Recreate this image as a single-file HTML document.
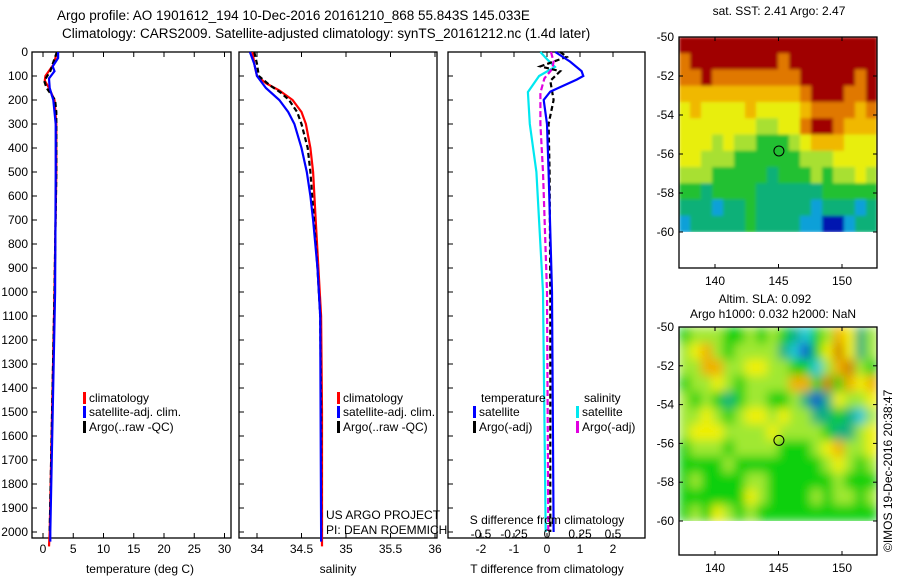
<!DOCTYPE html>
<html><head><meta charset="utf-8">
<style>
html,body{margin:0;padding:0;background:#fff;}
svg{display:block;font-family:"Liberation Sans",sans-serif;}
</style></head>
<body>
<svg id="fig" width="900" height="580" viewBox="0 0 900 580" xmlns="http://www.w3.org/2000/svg">
<defs>
<filter id="blurSla" filterUnits="userSpaceOnUse" x="679" y="327" width="198" height="194"><feGaussianBlur stdDeviation="5" edgeMode="duplicate"/></filter>
<filter id="blurSst" filterUnits="userSpaceOnUse" x="679" y="37" width="198" height="195"><feGaussianBlur stdDeviation="1.5" edgeMode="duplicate"/></filter>
</defs>
<text x="57" y="20" font-size="13.5">Argo profile: AO 1901612_194 10-Dec-2016 20161210_868 55.843S 145.033E</text>
<text x="62" y="38" font-size="13.5">Climatology: CARS2009. Satellite-adjusted climatology: synTS_20161212.nc (1.4d later)</text>
<g id="plots"></g>
</svg>
<script>
// ---- Profile data (depth in dbar) ----
const tClimDepth = [0,50,100,120,150,200,300,500,1000,1500,2000,2060];
const tClimVal   = [2.3,1.8,0.4,0.3,1.0,1.9,2.2,2.2,1.9,1.5,1.1,1.0];
const tSatDepth  = [0,25,60,80,110,150,200,300,500,1000,1500,2000,2040];
const tSatVal    = [2.5,2.5,1.6,1.9,1.0,1.1,1.7,2.1,2.1,2.0,1.6,1.2,1.2];
const tArgoDepth = [0,50,80,120,150,200,250,300,500,1000,1500,2000];
const tArgoVal   = [2.3,1.6,1.2,0.2,0.6,2.0,2.2,2.2,2.2,1.9,1.5,1.1];

const sClimDepth = [0,50,100,130,160,200,250,300,400,500,700,900,1100,1500,2000,2060];
const sClimVal   = [33.95,33.97,34.0,34.1,34.25,34.4,34.5,34.55,34.6,34.63,34.66,34.69,34.72,34.73,34.73,34.73];
const sSatDepth  = [0,50,100,150,200,250,300,400,500,600,700,900,1100,2000,2040];
const sSatVal    = [33.92,33.97,34.0,34.1,34.25,34.35,34.42,34.5,34.56,34.6,34.63,34.68,34.71,34.72,34.72];
const sArgoDepth = [0,50,100,140,170,200,250,300,400,500,700,900,1100,1500,2000];
const sArgoVal   = [33.97,34.0,34.02,34.15,34.27,34.36,34.45,34.5,34.57,34.6,34.64,34.68,34.71,34.72,34.72];

const dTSatDepth  = [0,40,80,100,115,140,165,200,300,500,1000,2000];
const dTSatVal    = [0.25,0.7,1.05,1.1,0.9,0.5,0.1,-0.1,0.0,0.05,0.15,0.2];
const dTArgoDepth = [0,20,40,60,80,120,200,300,500,1000,2000];
const dTArgoVal   = [0.4,0.6,0.2,-0.2,0.4,0.1,0.2,0.05,0.08,0.1,0.1];
const dSSatDepth  = [0,30,62,100,167,300,500,1000,2000];
const dSSatVal    = [-0.05,0.0,0.06,-0.06,-0.145,-0.13,-0.08,-0.03,-0.01];
const dSArgoDepth = [0,40,70,110,170,300,500,1000,2000];
const dSArgoVal   = [0.03,0.05,0.04,-0.02,-0.05,-0.05,-0.03,0.0,0.01];

const depthTicks = [0,100,200,300,400,500,600,700,800,900,1000,1100,1200,1300,1400,1500,1600,1700,1800,1900,2000];
const tTicks = [0,5,10,15,20,25,30];
const sTicks = [34,34.5,35,35.5,36];
const dTTicks = [-2,-1,0,1,2];
const dSTickLabels = ["-0.5","-0.25","0","0.25","0.5"];
const dSTicks = [-0.5,-0.25,0,0.25,0.5];

// ---- Map data ----
const sstGrid = [
"000000000000000000",
"100000000100000000",
"110111111110000010",
"222222222221000110",
"323333233332111121",
"333333344331001222",
"333434455543222333",
"334445555554443333",
"444555556555454434",
"556555566666655555",
"666766566666766676",
"766666566667788766"];
const sstColors = ["#a00000","#e07800","#f0b800","#e8ee10","#a8e030","#20c030","#10b078","#10a0d8","#0018b0"];
const slaGrid = [
"344433434321346524",
"456434444210357524",
"446644554433146743",
"344543444466373656",
"434323443342025445",
"445434554544223214",
"455544445444432245",
"344434444333456445",
"333343333333345434",
"343333443333334333",
"333333543333434434",
"343543433333333333"];
const slaColors = ["#1050d0","#20c8d8","#10b080","#10d010","#a0e830","#f0f000","#f0b000","#d08000"];

const NS="http://www.w3.org/2000/svg";
const root=document.getElementById('plots');
function mk(tag,attrs,parent){const e=document.createElementNS(NS,tag);for(const k in attrs)e.setAttribute(k,attrs[k]);(parent||root).appendChild(e);return e;}
function txt(x,y,s,size,anchor,parent){const t=mk('text',{x:x,y:y,'font-size':size||12,'text-anchor':anchor||'start'},parent);t.textContent=s;return t;}

const yTop=52, yPer100=24, yBot=538;
function yD(d){return yTop+d*yPer100/100;}
function lin(d0,d1,r0,r1){return v=>r0+(v-d0)*(r1-r0)/(d1-d0);}

function panel(name,x0,x1){
  const g=mk('g',{});
  
  
  mk('rect',{x:x0,y:yTop,width:x1-x0,height:yBot-yTop,fill:'none',stroke:'#000','stroke-width':1.3},g);
  depthTicks.forEach(d=>{mk('line',{x1:x0,x2:x0+5,y1:yD(d),y2:yD(d),stroke:'#000'},g);});
  return g;
}
function xticks(g,sc,ticks,labels){
  ticks.forEach((v,i)=>{const x=sc(v);
    mk('line',{x1:x,x2:x,y1:yBot,y2:yBot-5,stroke:'#000'},g);
    mk('line',{x1:x,x2:x,y1:yTop,y2:yTop+5,stroke:'#000'},g);
    if(labels) txt(x,553,labels[i],12,'middle',g);});
}
function series(g,name,sc,depths,vals,color,dash,w){
  const pts=depths.map((d,i)=>sc(vals[i]).toFixed(1)+','+yD(d).toFixed(1)).join(' ');
  const p=mk('polyline',{points:pts,fill:'none',stroke:color,'stroke-width':w||2.2},g);
  if(dash)p.setAttribute('stroke-dasharray',dash);
  
  
}
function legend(g,x,y,color,label){
  mk('rect',{x:x,y:y-10,width:3,height:12,fill:color},g);
  txt(x+6,y,label,12,'start',g);
}

// Panel 1: temperature
const g1=panel('temperature-panel',32,231);
depthTicks.forEach(d=>{txt(28,yD(d)+4,String(d),12,'end',g1);});
const xT=lin(0,30,43,224.5);
xticks(g1,xT,tTicks,tTicks.map(String));
txt(140,573,'temperature (deg C)',12,'middle',g1);
series(g1,'temp-climatology-line',xT,tClimDepth,tClimVal,'#f00');
series(g1,'temp-argo-line',xT,tArgoDepth,tArgoVal,'#000','5,3');
series(g1,'temp-satellite-line',xT,tSatDepth,tSatVal,'#00f');
legend(g1,83,402,'#f00','climatology');
legend(g1,83,416,'#00f','satellite-adj. clim.');
legend(g1,83,431,'#000','Argo(..raw -QC)');

// Panel 2: salinity
const g2=panel('salinity-panel',239,437);
const xS=lin(34,36,257,435);
xticks(g2,xS,sTicks,sTicks.map(String));
txt(338,573,'salinity',12,'middle',g2);
series(g2,'sal-climatology-line',xS,sClimDepth,sClimVal,'#f00');
series(g2,'sal-argo-line',xS,sArgoDepth,sArgoVal,'#000','5,3');
series(g2,'sal-satellite-line',xS,sSatDepth,sSatVal,'#00f');
legend(g2,337,402,'#f00','climatology');
legend(g2,337,416,'#00f','satellite-adj. clim.');
legend(g2,337,431,'#000','Argo(..raw -QC)');
txt(326,519,'US ARGO PROJECT',12,'start',g2);
txt(326,534,'PI: DEAN ROEMMICH',12,'start',g2);

// Panel 3: differences
const g3=panel('difference-panel',448,645);
const xDT=lin(-2,2,481,613);
const xDS=lin(-0.5,0.5,481,613);
xticks(g3,xDT,dTTicks,dTTicks.map(String));
txt(547,573,'T difference from climatology',12,'middle',g3);
series(g3,'dS-satellite-line',xDS,dSSatDepth,dSSatVal,'#00e8f0');
series(g3,'dS-argo-line',xDS,dSArgoDepth,dSArgoVal,'#e000e0','6,3');
series(g3,'dT-argo-line',xDT,dTArgoDepth,dTArgoVal,'#000','5,3');
series(g3,'dT-satellite-line',xDT,dTSatDepth,dTSatVal,'#00f');
txt(547,524,'S difference from climatology',12,'middle',g3);
dSTicks.forEach((v,i)=>txt(xDS(v),538,dSTickLabels[i],12,'middle',g3));
txt(481,402,'temperature',12,'start',g3);
legend(g3,473,416,'#00f','satellite');
legend(g3,473,431,'#000','Argo(-adj)');
txt(584,402,'salinity',12,'start',g3);
legend(g3,576,416,'#00e8f0','satellite');
legend(g3,576,431,'#e000e0','Argo(-adj)');

// Maps
const mapX0=679,mapX1=877;
const lonX=lin(140,150,715,842);
function drawMap(name,grid,colors,yTopM,yM60,yBotM,filt){
  const g=mk('g',{});
  
  
  const cells=mk('g',{filter:'url(#'+filt+')'},g);
  const rows=grid.length, cols=grid[0].length;
  const cw=(mapX1-mapX0)/cols, ch=(yM60-yTopM)/rows;
  grid.forEach((row,r)=>{for(let c=0;c<cols;c++){
    mk('rect',{x:(mapX0+c*cw).toFixed(2),y:(yTopM+r*ch).toFixed(2),width:(cw+0.6).toFixed(2),height:(ch+0.6).toFixed(2),fill:colors[+row[c]]},cells);
  }});
  mk('rect',{x:mapX0,y:yTopM,width:mapX1-mapX0,height:yBotM-yTopM,fill:'none',stroke:'#000','stroke-width':1.3},g);
  const latY=lin(-50,-60,yTopM,yM60);
  [-50,-52,-54,-56,-58,-60].forEach(l=>{
    const y=latY(l);
    mk('line',{x1:mapX0,x2:mapX0+4,y1:y,y2:y,stroke:'#000'},g);
    mk('line',{x1:mapX1,x2:mapX1-4,y1:y,y2:y,stroke:'#000'},g);
    txt(674,y+4,String(l),12,'end',g);
  });
  [140,145,150].forEach(l=>{const x=lonX(l);
    mk('line',{x1:x,x2:x,y1:yBotM,y2:yBotM-4,stroke:'#000'},g);
    mk('line',{x1:x,x2:x,y1:yTopM,y2:yTopM+4,stroke:'#000'},g);
    txt(x,yBotM+17,String(l),12,'middle',g);});
  const c=mk('circle',{cx:lonX(145.033),cy:latY(-55.843),r:5,fill:'none',stroke:'#000','stroke-width':1},g);
  
  
  return g;
}
drawMap('sst-map',sstGrid,sstColors,37,232,268,'blurSst');
drawMap('sla-map',slaGrid,slaColors,327,521,555,'blurSla');
txt(779,15,'sat. SST: 2.41  Argo: 2.47',12,'middle');
txt(765,303,'Altim. SLA: 0.092',12,'middle');
txt(773,318,'Argo h1000: 0.032 h2000: NaN',12,'middle');
const cr=txt(0,0,'\u00a9IMOS 19-Dec-2016 20:38:47',12,'start');
cr.setAttribute('transform','translate(892,552) rotate(-90)');


</script>
</body></html>
